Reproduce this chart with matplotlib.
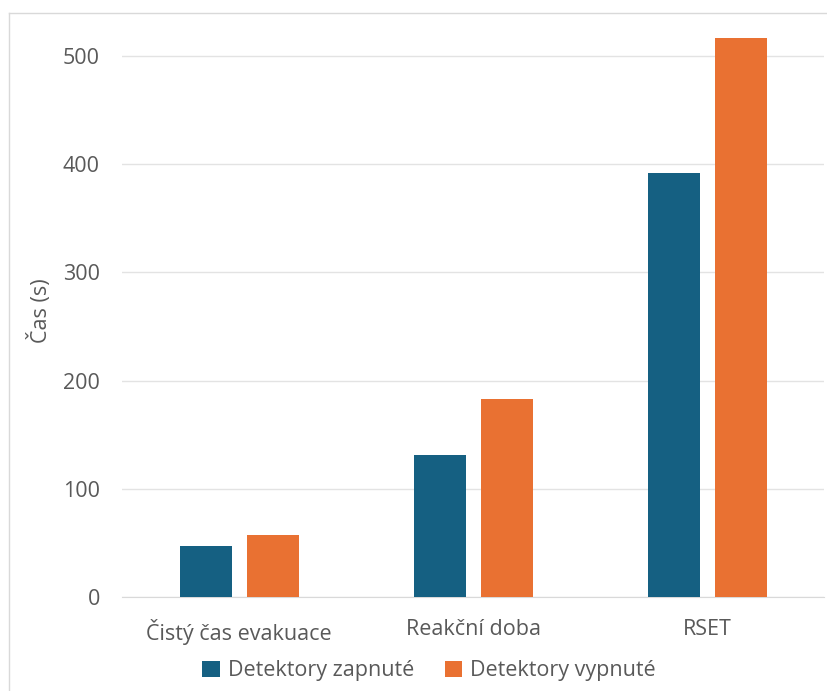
import matplotlib.pyplot as plt
import numpy as np
from matplotlib.lines import Line2D

categories = ['Čistý čas evakuace', 'Reakční doba', 'RSET']
zapnute = [47, 131, 392]
vypnute = [57, 183, 517]
series_names = ['Detektory zapnuté', 'Detektory vypnuté']

plt.rcParams['font.family'] = ['Open Sans', 'DejaVu Sans']

fig = plt.figure(figsize=(8.27, 6.91), dpi=100)
ax = fig.add_axes([122/827, 1-597/691, 702/827, (597-23.5)/691])

x = np.arange(len(categories))
w = 52/234
off = (52+15)/2/234
ax.bar(x - off, zapnute, w, color='#156082', label=series_names[0], zorder=3)
ax.bar(x + off, vypnute, w, color='#E97132', label=series_names[1], zorder=3)

ax.set_xlim(-0.5, 2.5)
ax.set_ylim(0, 530)
ax.set_yticks([0, 100, 200, 300, 400, 500])
ax.grid(axis='y', color='#e3e3e3', linewidth=1, zorder=0)
ax.set_xticks(x)
ax.set_xticklabels(categories)
ax.tick_params(axis='both', length=0, labelsize=15.5, colors='#595959')
ax.tick_params(axis='x', pad=16)
ax.tick_params(axis='y', pad=16)
for s in ['top', 'right', 'left']:
    ax.spines[s].set_visible(False)
ax.spines['bottom'].set_color('#d9d9d9')
ax.set_ylabel('Čas (s)', fontsize=15.5, color='#595959', labelpad=8)

fig.legend(loc='lower center', bbox_to_anchor=(0.519, -0.014), ncol=2, frameon=False,
           fontsize=15.5, labelcolor='#595959', handlelength=0.8, handleheight=0.8,
           columnspacing=1.4, handletextpad=0.4)

# outer chart border
fig.add_artist(Line2D([9/827, 9/827], [0, 1-13/691], color='#d9d9d9', lw=1, transform=fig.transFigure))
fig.add_artist(Line2D([9/827, 1], [1-13/691, 1-13/691], color='#d9d9d9', lw=1, transform=fig.transFigure))

fig.savefig('out.png', dpi=100)
